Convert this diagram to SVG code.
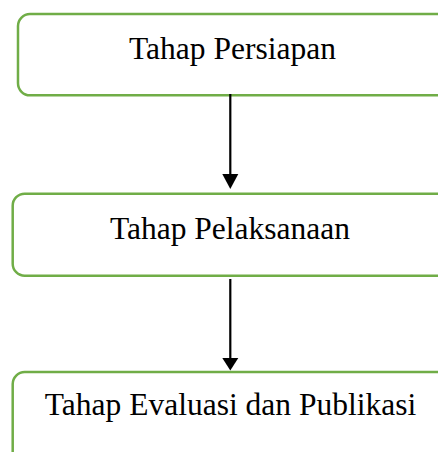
<svg xmlns="http://www.w3.org/2000/svg" width="438" height="452" viewBox="0 0 438 452">
<style>
.box{fill:#ffffff;stroke:#70AD47;stroke-width:2.5}
.lbl{font-family:"Liberation Serif","Times New Roman",serif;font-size:31.5px;fill:#000000;text-anchor:middle}
.conn{stroke:#000000;stroke-width:2.2;fill:none}
.head{fill:#000000}
</style>
<rect width="438" height="452" fill="#ffffff"/>
<g id="node1">
<rect class="box" x="18" y="14" width="440" height="81.3" rx="12"/>
<text class="lbl" x="232.5" y="59">Tahap Persiapan</text>
</g>
<g id="node2">
<rect class="box" x="12.7" y="193.7" width="445" height="82" rx="12"/>
<text class="lbl" x="230" y="239">Tahap Pelaksanaan</text>
</g>
<g id="node3">
<rect class="box" x="12.7" y="372" width="445" height="100" rx="12"/>
<text class="lbl" x="230.5" y="415">Tahap Evaluasi dan Publikasi</text>
</g>
<g id="connectors">
<line class="conn" x1="230.3" y1="94" x2="230.3" y2="176"/>
<polygon class="head" points="222.3,174 238.3,174 230.3,189"/>
<line class="conn" x1="230.3" y1="279" x2="230.3" y2="360"/>
<polygon class="head" points="222.3,358 238.3,358 230.3,370.5"/>
</g>
</svg>
